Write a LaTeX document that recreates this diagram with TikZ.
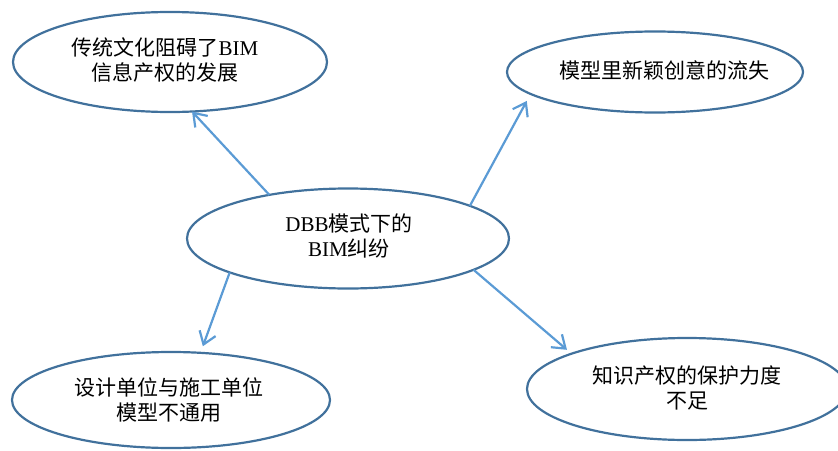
\documentclass[tikz,border=0pt]{standalone}
\usepackage{fontspec}
\setmainfont{Liberation Serif}
\newfontfamily\cjk{Noto Sans CJK SC}
\usetikzlibrary{arrows.meta,shapes.geometric}
\definecolor{ellc}{RGB}{65,113,156}
\definecolor{arrc}{RGB}{91,155,213}
\begin{document}
\begin{tikzpicture}[x=1pt,y=-1pt,
  bub/.style={draw=ellc, line width=2.2pt, ellipse, inner sep=0pt, outer sep=0pt},
  lab/.style={font=\fontsize{21}{25}\selectfont, align=center, text=black, inner sep=0pt},
  conn/.style={draw=arrc, line width=2.2pt, -{Straight Barb[length=12pt,width=17pt]}}]
\useasboundingbox (0,0) rectangle (838,450);
\node[bub, minimum width=314pt, minimum height=100pt] (tl) at (170,62) {};
\node[bub, minimum width=296pt, minimum height=81pt] (tr) at (655,72) {};
\node[bub, minimum width=322pt, minimum height=100pt] (c) at (348,238.5) {};
\node[bub, minimum width=318pt, minimum height=96pt] (bl) at (171,400) {};
\node[bub, minimum width=320pt, minimum height=102pt] (br) at (687,389) {};
\node[lab] (tlt) at (165,60.5) {{\cjk 传统文化阻碍了}BIM\\{\cjk 信息产权的发展}};
\node[lab] (trt) at (664,70) {{\cjk 模型里新颖创意的流失}};
\node[lab] (ct) at (349,236) {DBB{\cjk 模式下的}\\BIM{\cjk 纠纷}};
\node[lab] (blt) at (169,400) {{\cjk 设计单位与施工单位}\\{\cjk 模型不通用}};
\node[lab] (brt) at (687,388) {{\cjk 知识产权的保护力度}\\{\cjk 不足}};
\draw[conn] (c.151) -- (tl.-66);
\draw[conn, shorten >=8pt] (c.15.9) -- (tr.190.7);
\draw[conn, shorten >=7pt] (c.196.9) -- (bl.58.8);
\draw[conn, shorten >=6pt] (c.-14.4) -- (br.163.3);
\end{tikzpicture}
\end{document}
